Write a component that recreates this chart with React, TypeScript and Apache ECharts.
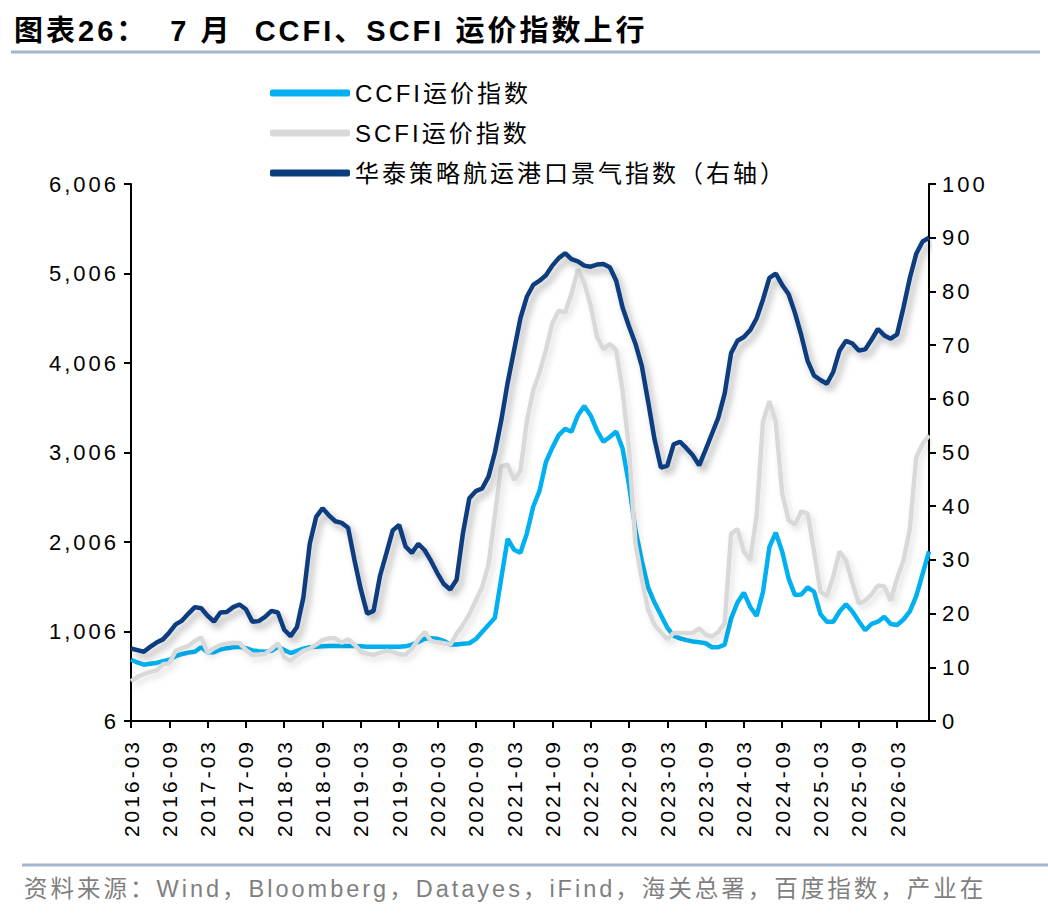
import React, { useEffect, useRef } from "react";
import * as echarts from "echarts";

// ---- data (monthly, 2016-03 .. 2026-08) ----
const START_YEAR = 2016;
const START_MONTH = 3;
const N_MONTHS = 126;
const months: string[] = [];
for (let k = 0; k < N_MONTHS; k++) {
  const m = START_MONTH - 1 + k;
  const y = START_YEAR + Math.floor(m / 12);
  const mm = (m % 12) + 1;
  months.push(`${y}-${mm < 10 ? "0" + mm : mm}`);
}

const ccfi: number[] = [
  690, 660, 635, 645, 655, 675, 690, 730, 755, 770,
  780, 830, 775, 775, 805, 820, 830, 836, 820, 795,
  785, 780, 790, 835, 800, 765, 790, 815, 830, 836,
  840, 844, 844, 844, 844, 844, 840, 836, 836, 836,
  836, 836, 836, 840, 860, 890, 925, 930, 925, 900,
  860, 860, 870, 875, 920, 1000, 1080, 1160, 1600, 2040,
  1920, 1885, 2100, 2400, 2580, 2900, 3060, 3200, 3270, 3240,
  3420, 3525, 3420, 3250, 3126, 3180, 3240, 3050, 2650, 2150,
  1800, 1500, 1330, 1190, 1050, 960, 930, 910, 895, 885,
  875, 830, 830, 860, 1150, 1330, 1440, 1280, 1180, 1450,
  1950, 2110, 1900, 1600, 1413, 1420, 1500, 1450, 1200, 1115,
  1115, 1230, 1310, 1230, 1120, 1020, 1090, 1115, 1170, 1090,
  1078, 1140, 1230, 1400, 1650, 1900,
];

const scfi: number[] = [
  450, 500, 530, 555, 570, 640, 650, 790, 820, 845,
  900, 940, 770, 820, 855, 870, 880, 878, 800, 745,
  750, 754, 810, 874, 720, 680, 740, 790, 815, 860,
  910, 930, 930, 880, 920, 860, 780, 760, 745, 770,
  790, 780, 750, 750, 810, 920, 1000, 900, 885, 874,
  860, 980, 1080, 1200, 1350, 1500, 1750, 2300, 2850, 2870,
  2700, 2800, 3350, 3700, 3900, 4150, 4450, 4590, 4570, 4780,
  5050, 4900, 4650, 4300, 4160, 4220, 4150, 3700, 3050, 2000,
  1600, 1250, 1080, 1000, 920, 990, 990, 990, 990, 1040,
  970, 950, 1000, 1100, 2100, 2150, 1900, 1804, 2300, 3350,
  3580, 3350, 2550, 2250, 2200, 2350, 2320, 1900, 1450, 1400,
  1620, 1900, 1800, 1550, 1320, 1350, 1420, 1520, 1510, 1350,
  1600, 1800, 2150, 2950, 3100, 3200,
];

const huatai: number[] = [
  13.5, 13.2, 12.9, 13.8, 14.6, 15.2, 16.5, 18.0, 18.7, 20.0,
  21.2, 21.0, 19.6, 18.5, 20.2, 20.3, 21.2, 21.7, 20.8, 18.5,
  18.6, 19.4, 20.5, 20.2, 17.0, 15.8, 17.5, 23.0, 33.0, 38.0,
  39.6, 38.3, 37.2, 36.9, 36.0, 30.0, 24.5, 20.0, 20.5, 27.0,
  31.2, 35.5, 36.5, 32.5, 31.3, 33.0, 31.8, 29.8, 27.5, 25.5,
  24.5, 26.3, 35.0, 41.5, 42.8, 43.3, 45.5, 50.0, 56.0, 63.0,
  69.0, 75.0, 79.0, 81.2, 82.0, 83.0, 84.8, 86.2, 87.1, 86.0,
  85.6, 84.8, 84.6, 85.0, 85.1, 84.5, 82.0, 77.0, 73.5, 70.3,
  66.2, 59.5, 52.5, 47.2, 47.5, 51.5, 52.0, 50.8, 49.5, 47.6,
  50.5, 53.5, 56.5, 61.0, 68.5, 70.8, 71.5, 72.8, 75.0, 78.5,
  82.5, 83.3, 81.2, 79.5, 76.0, 71.8, 67.0, 64.3, 63.5, 62.8,
  65.0, 69.0, 70.8, 70.3, 69.0, 69.2, 71.0, 73.0, 71.8, 71.2,
  72.0, 77.0, 82.5, 87.0, 89.3, 90.0,
];

const seriesNames: string[] = [
  "CCFI运价指数",
  "SCFI运价指数",
  "华泰策略航运港口景气指数（右轴）",
];
const seriesColors: string[] = ["#00b0f0", "#d9d9d9", "#0a3d7e"];

// left axis ticks read 6, 1,006, ... 6,006
const LEFT_OFFSET = 6;
const LEFT_MAX = 6000;
const LEFT_STEP = 1000;
const RIGHT_MAX = 100;
const RIGHT_STEP = 10;

const TITLE = "图表26：  7 月  CCFI、SCFI 运价指数上行";
const SOURCE =
  "资料来源：Wind，Bloomberg，Datayes，iFind，海关总署，百度指数，产业在";

const FONT = "'Liberation Sans', Arial, 'Noto Sans CJK SC', sans-serif";

export default function App() {
  const ref = useRef<HTMLDivElement>(null);

  useEffect(() => {
    if (!ref.current) return;
    document.body.style.margin = "0";
    const chart = echarts.init(ref.current, undefined, { renderer: "svg" });

    const axisLineStyle = { color: "#000", width: 2 };
    const option: any = {
      animation: false,
      backgroundColor: "#fff",
      grid: { left: 131, right: 119, top: 184, bottom: 195 },
      legend: {
        orient: "vertical",
        left: 265,
        top: 76,
        icon: "roundRect",
        itemWidth: 80,
        itemHeight: 7,
        itemGap: 16,
        data: seriesNames,
        textStyle: {
          fontSize: 24,
          color: "#000",
          fontFamily: FONT,
          lineHeight: 24,
        },
      },
      xAxis: {
        type: "category",
        data: months,
        boundaryGap: false,
        axisLine: { show: true, lineStyle: axisLineStyle },
        axisTick: {
          show: true,
          interval: 5,
          length: 7,
          inside: false,
          lineStyle: axisLineStyle,
        },
        axisLabel: {
          interval: 5,
          rotate: 90,
          margin: 18,
          fontSize: 21,
          color: "#000",
          fontFamily: FONT,
        },
        splitLine: { show: false },
      },
      yAxis: [
        {
          type: "value",
          position: "left",
          min: 0,
          max: LEFT_MAX,
          interval: LEFT_STEP,
          axisLine: { show: true, lineStyle: axisLineStyle },
          axisTick: { show: true, length: 7, inside: false, lineStyle: axisLineStyle },
          axisLabel: {
            margin: 12,
            fontSize: 22,
            color: "#000",
            fontFamily: FONT,
            formatter: (v: number) => (v + LEFT_OFFSET).toLocaleString("en-US"),
          },
          splitLine: { show: false },
        },
        {
          type: "value",
          position: "right",
          min: 0,
          max: RIGHT_MAX,
          interval: RIGHT_STEP,
          axisLine: { show: true, lineStyle: axisLineStyle },
          axisTick: { show: true, length: 7, inside: false, lineStyle: axisLineStyle },
          axisLabel: {
            margin: 13,
            fontSize: 22,
            color: "#000",
            fontFamily: FONT,
          },
          splitLine: { show: false },
        },
      ],
      series: [
        {
          name: seriesNames[0],
          type: "line",
          yAxisIndex: 0,
          data: ccfi.map((v) => v - LEFT_OFFSET),
          symbol: "none",
          showSymbol: false,
          itemStyle: { color: seriesColors[0] },
          lineStyle: { color: seriesColors[0], width: 4.5 },
          z: 2,
        },
        {
          name: seriesNames[1],
          type: "line",
          yAxisIndex: 0,
          data: scfi.map((v) => v - LEFT_OFFSET),
          symbol: "none",
          showSymbol: false,
          itemStyle: { color: seriesColors[1] },
          lineStyle: {
            color: seriesColors[1],
            width: 4.5,
            shadowColor: "rgba(0,0,0,0.12)",
            shadowBlur: 6,
            shadowOffsetX: 3,
            shadowOffsetY: 4,
          },
          z: 3,
        },
        {
          name: seriesNames[2],
          type: "line",
          yAxisIndex: 1,
          data: huatai,
          symbol: "none",
          showSymbol: false,
          itemStyle: { color: seriesColors[2] },
          lineStyle: {
            color: seriesColors[2],
            width: 4.5,
            shadowColor: "rgba(0,0,0,0.3)",
            shadowBlur: 7,
            shadowOffsetX: 4,
            shadowOffsetY: 5,
          },
          z: 4,
        },
      ],
      graphic: [
        {
          type: "text",
          left: 14,
          top: 16,
          style: {
            text: TITLE,
            fontSize: 29,
            fontWeight: "bold",
            fontFamily: "'Liberation Sans Narrow', 'Liberation Sans', 'Noto Sans CJK SC', sans-serif",
            fill: "#000",
          },
        },
        {
          type: "line",
          shape: { x1: 11, y1: 52, x2: 1040, y2: 52 },
          style: { stroke: "#a3b6cd", lineWidth: 3 },
        },
        {
          type: "line",
          shape: { x1: 22, y1: 865, x2: 1048, y2: 865 },
          style: { stroke: "#a3b6cd", lineWidth: 3 },
        },
        {
          type: "text",
          left: 24,
          top: 877,
          style: {
            text: SOURCE,
            fontSize: 23.5,
            fontFamily: FONT,
            fill: "#7f7f7f",
          },
        },
      ],
    };

    chart.setOption(option);
    return () => chart.dispose();
  }, []);

  return (
    <div
      ref={ref}
      style={{
        position: "fixed",
        left: 0,
        top: 0,
        width: 1048,
        height: 916,
        letterSpacing: "3px",
      }}
    />
  );
}
